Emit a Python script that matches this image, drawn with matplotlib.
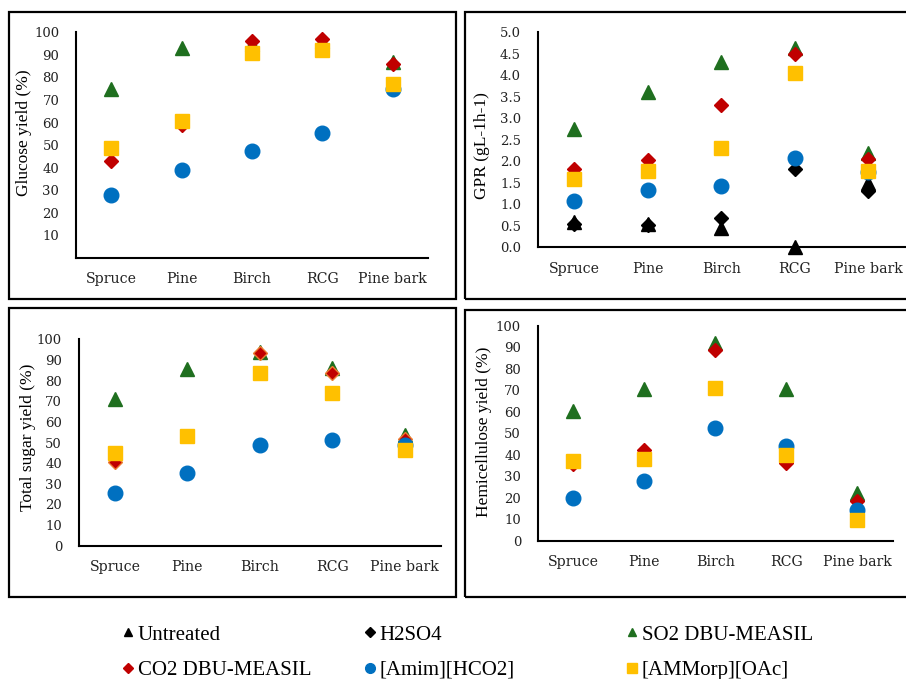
import matplotlib
matplotlib.use("Agg")
import matplotlib.pyplot as plt
from matplotlib.lines import Line2D
from matplotlib.patches import Rectangle

W, H = 906, 679
categories = ["Spruce", "Pine", "Birch", "RCG", "Pine bark"]
series_names = ["Untreated", "H2SO4", "SO2 DBU-MEASIL", "CO2 DBU-MEASIL", "[Amim][HCO2]", "[AMMorp][OAc]"]

# Glucose yield (%)
glucose_so2 = [75, 93, 95, 96, 87]
glucose_co2 = [43, 59, 96, 97, 86]
glucose_amim = [28, 39, 47.5, 55.5, 75]
glucose_ammorp = [48.6, 60.7, 91, 92, 77]

# GPR (gL-1h-1)
gpr_untreated = [0.58, 0.55, 0.46, 0.0, 1.49]
gpr_h2so4 = [0.54, 0.52, 0.68, 1.82, 1.32]
gpr_so2 = [2.75, 3.62, 4.32, 4.64, 2.2]
gpr_co2 = [1.82, 2.04, 3.3, 4.5, 2.06]
gpr_amim = [1.07, 1.33, 1.43, 2.07, 1.75]
gpr_ammorp = [1.6, 1.78, 2.3, 4.06, 1.78]

# Total sugar yield (%)
sugar_so2 = [71, 85.6, 94, 86, 53.6]
sugar_co2 = [40.5, 53, 93.5, 83.5, 51.5]
sugar_amim = [25.5, 35.3, 49, 51, 49]
sugar_ammorp = [44.7, 53.2, 83.8, 73.8, 46.4]

# Hemicellulose yield (%)
hemi_so2 = [60.6, 70.5, 91.9, 70.5, 22]
hemi_co2 = [35.5, 42.3, 88.8, 36.3, 18.5]
hemi_amim = [20, 27.7, 52.3, 44.3, 14.3]
hemi_ammorp = [37.2, 38, 71, 39.9, 9.6]

C_BLACK = "#000000"
C_GREEN = "#1F6F1F"
C_RED = "#C00000"
C_BLUE = "#0070C0"
C_YEL = "#FFC000"
C_ORANGE = "#ED7D31"

TICKFONT = "DejaVu Serif"
LABFONT = "Liberation Serif"

fig = plt.figure(figsize=(W / 100, H / 100), dpi=100)


def rect(x0, y0, x1, y1):
    return [x0 / W, 1 - y1 / H, (x1 - x0) / W, (y1 - y0) / H]


# panel frames
for (x0, y0, x1, y1) in [(9, 12, 456, 299), (464.5, 12, 915, 299), (9, 308.5, 456, 597), (464.5, 310, 915, 597)]:
    fig.patches.append(Rectangle((x0 / W, 1 - y1 / H), (x1 - x0) / W, (y1 - y0) / H,
                                 transform=fig.transFigure, fill=False, edgecolor="black",
                                 linewidth=1.6, zorder=0))


def setup(ax, ylim, yticks, yticklabels, ylabel, labelx, labely):
    ax.set_xlim(-0.5, 4.5)
    ax.set_ylim(*ylim)
    ax.set_yticks(yticks)
    ax.set_yticklabels(yticklabels, fontfamily=TICKFONT, fontsize=9.5)
    ax.set_xticks(range(len(categories)))
    ax.set_xticklabels(categories, fontfamily=TICKFONT, fontsize=10.2)
    ax.tick_params(axis="both", length=0)
    ax.tick_params(axis="y", pad=12)
    ax.tick_params(axis="x", pad=10.5)
    for s in ["top", "right"]:
        ax.spines[s].set_visible(False)
    for s in ["left", "bottom"]:
        ax.spines[s].set_linewidth(1.5)
        ax.spines[s].set_color("black")
    ax.set_ylabel(ylabel, fontfamily=LABFONT, fontsize=12.5)
    ax.yaxis.set_label_coords((labelx + 8) / W, 1 - labely / H, transform=fig.transFigure)
    ax.patch.set_alpha(0)
    for t in ax.get_xticklabels() + ax.get_yticklabels():
        t.set_color("#222222")


x = list(range(len(categories)))
MS_T, MS_D, MS_C, MS_S = 10, 7, 10.5, 10.5


def plot_series(ax, untreated, h2so4, so2, co2, amim, ammorp, co2_edge=None):
    if untreated is not None:
        ax.plot(x, untreated, ls="none", marker="^", ms=MS_T, color=C_BLACK, mec=C_BLACK, clip_on=False)
    if h2so4 is not None:
        ax.plot(x, h2so4, ls="none", marker="D", ms=MS_D, color=C_BLACK, mec=C_BLACK, clip_on=False)
    ax.plot(x, so2, ls="none", marker="^", ms=MS_T, color=C_GREEN, mec=C_GREEN, clip_on=False)
    ax.plot(x, co2, ls="none", marker="D", ms=MS_D, color=C_RED,
            mec=co2_edge if co2_edge else C_RED, mew=1.0, clip_on=False)
    ax.plot(x, amim, ls="none", marker="o", ms=MS_C, color=C_BLUE, mec=C_BLUE, clip_on=False)
    ax.plot(x, ammorp, ls="none", marker="s", ms=MS_S, color=C_YEL, mec=C_YEL, clip_on=False)


pct_ticks = list(range(0, 101, 10))

# Top-left: glucose
ax1 = fig.add_axes(rect(76, 32.3, 428, 257.9))
plot_series(ax1, None, None, glucose_so2, glucose_co2, glucose_amim, glucose_ammorp)
setup(ax1, (0, 100), pct_ticks[1:], [str(v) for v in pct_ticks[1:]], "Glucose yield (%)", 24, 133)

# Top-right: GPR
gpr_ticks = [i * 0.5 for i in range(11)]
ax2 = fig.add_axes(rect(537.7, 32.3, 905, 247.3))
plot_series(ax2, gpr_untreated, gpr_h2so4, gpr_so2, gpr_co2, gpr_amim, gpr_ammorp)
setup(ax2, (0, 5), gpr_ticks, [f"{v:.1f}" for v in gpr_ticks], "GPR (gL-1h-1)", 482, 146)

# Bottom-left: total sugar
ax3 = fig.add_axes(rect(78.7, 339.3, 440.7, 545.7))
plot_series(ax3, None, None, sugar_so2, sugar_co2, sugar_amim, sugar_ammorp, co2_edge=C_ORANGE)
setup(ax3, (0, 100), pct_ticks, [str(v) for v in pct_ticks], "Total sugar yield (%)", 28, 437)

# Bottom-right: hemicellulose
ax4 = fig.add_axes(rect(537.7, 326, 892.7, 540.7))
plot_series(ax4, None, None, hemi_so2, hemi_co2, hemi_amim, hemi_ammorp)
setup(ax4, (0, 100), pct_ticks, [str(v) for v in pct_ticks], "Hemicellulose yield (%)", 484, 432)

# Legend: three columns placed manually
handles = [
    Line2D([], [], ls="none", marker="^", ms=6, color=C_BLACK),
    Line2D([], [], ls="none", marker="D", ms=5, color=C_BLACK),
    Line2D([], [], ls="none", marker="^", ms=6, color=C_GREEN),
    Line2D([], [], ls="none", marker="D", ms=5, color=C_RED),
    Line2D([], [], ls="none", marker="o", ms=7, color=C_BLUE),
    Line2D([], [], ls="none", marker="s", ms=7, color=C_YEL),
]
col_x = [122, 364, 626]
for ci in range(3):
    hs = [handles[ci], handles[ci + 3]]
    ls = [series_names[ci], series_names[ci + 3]]
    fig.legend(hs, ls, loc="upper left", bbox_to_anchor=(col_x[ci] / W, 1 - 625 / H),
               frameon=False, prop={"family": LABFONT, "size": 15},
               handlelength=0.6, handletextpad=0.15, labelspacing=0.75,
               borderaxespad=0, borderpad=0)

fig.savefig("out.png", dpi=100)
